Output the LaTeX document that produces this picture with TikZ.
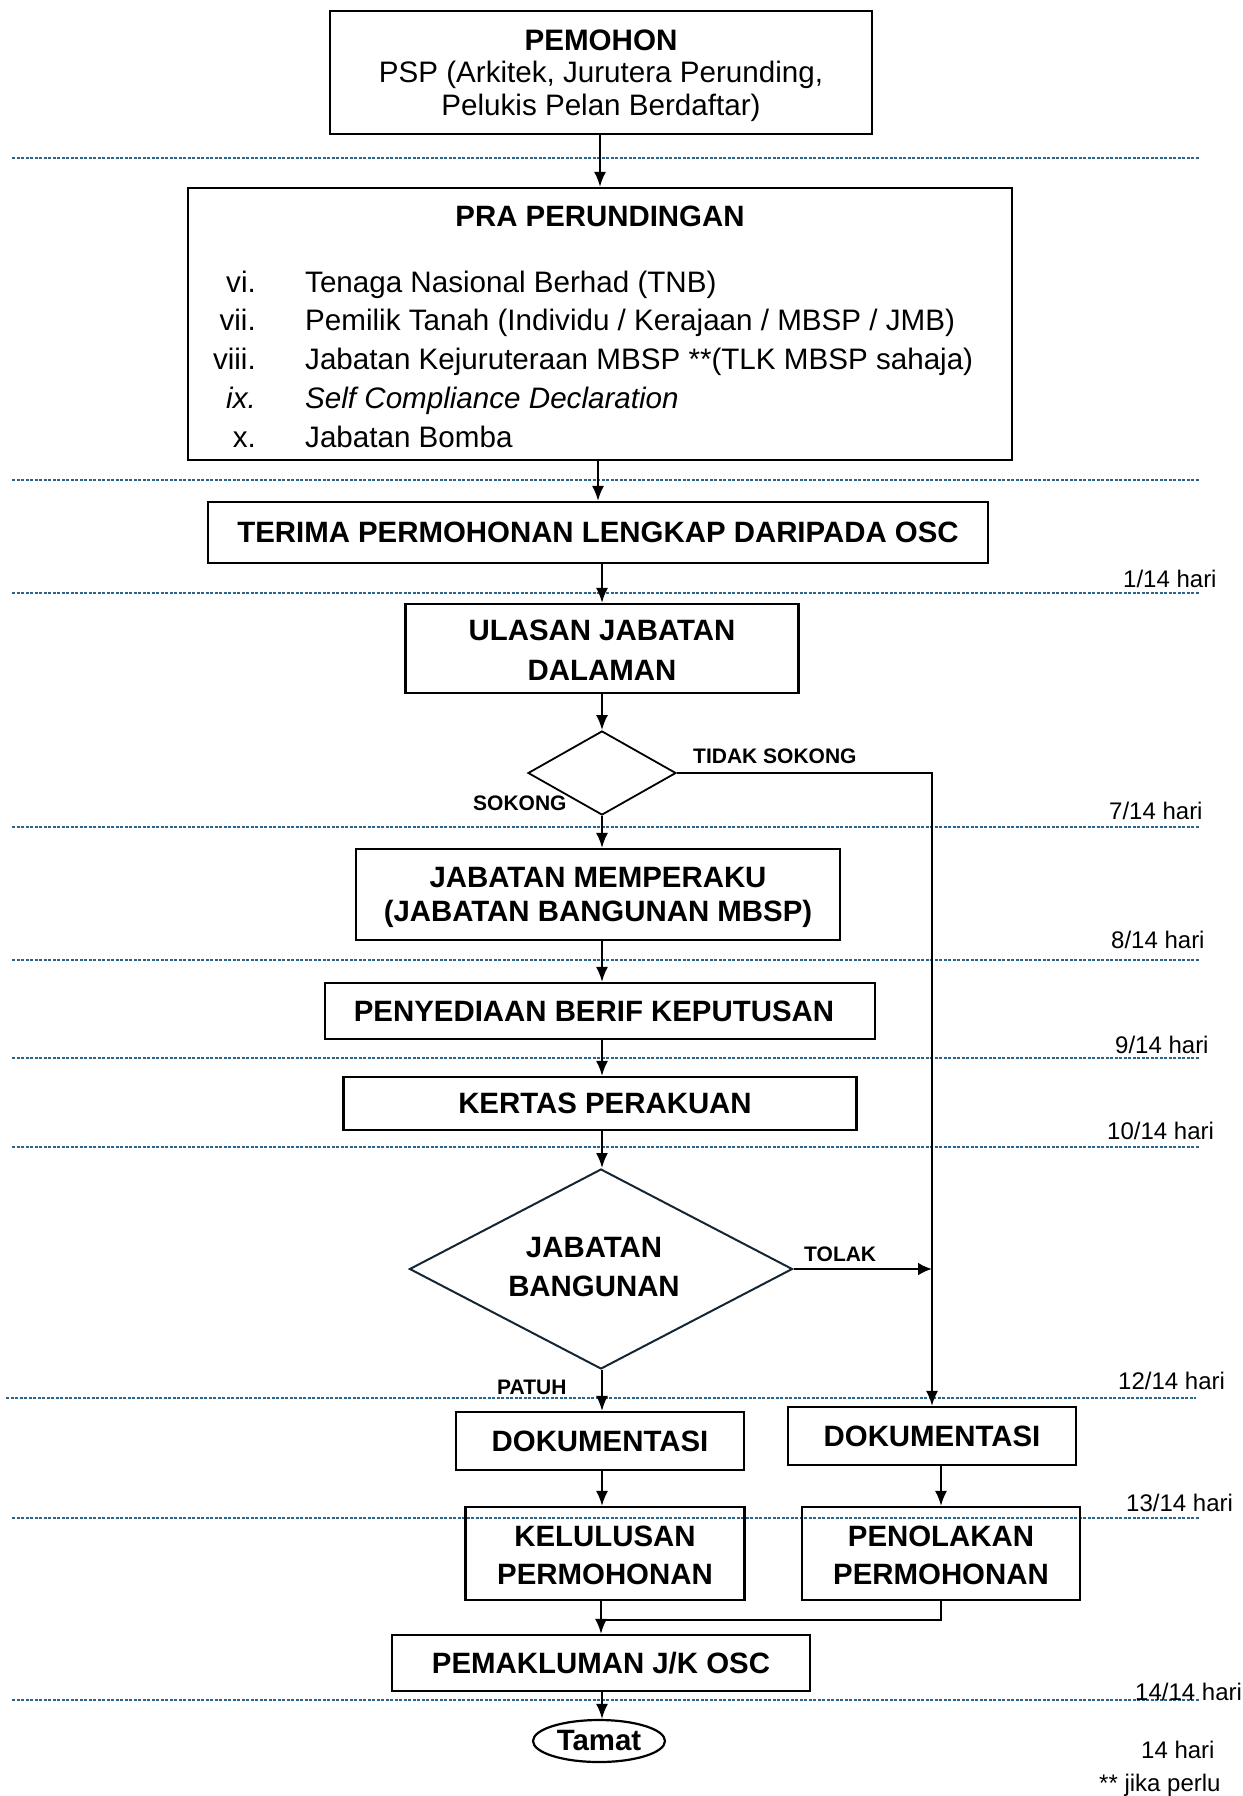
\documentclass[tikz,border=0pt]{standalone}
\usepackage{fontspec}
\setmainfont{Liberation Sans}
\usetikzlibrary{arrows.meta,shapes.geometric}
\definecolor{sepblue}{RGB}{40,100,140}
\definecolor{dmd}{RGB}{20,38,52}
\begin{document}
\begin{tikzpicture}[x=1pt,y=-1pt,
  box/.style={draw, line width=2.2pt, inner sep=0pt, align=center, font=\bfseries\fontsize{29.4}{35}\selectfont},
  arr/.style={line width=2pt, -{Latex[length=15pt,width=12pt]}},
  plain/.style={line width=2pt},
  sepline/.style={draw=sepblue, line width=1.6pt, dash pattern=on 3pt off 1.5pt},
  hari/.style={anchor=west, inner sep=0pt, font=\fontsize{24}{28}\selectfont},
  lbl/.style={anchor=west, inner sep=0pt, font=\bfseries\fontsize{21}{25}\selectfont},
  item/.style={inner sep=0pt, font=\fontsize{29.6}{34}\selectfont}
]
\useasboundingbox (0,0) rectangle (1242,1796);

% separator lines
\foreach \yy in {158,480,593,827,960,1058,1147,1518,1700}
  \draw[sepline] (12,\yy) -- (1200,\yy);
\draw[sepline] (6,1398) -- (1196,1398);

% boxes
\node[box, minimum width=542pt, minimum height=123pt, font=\fontsize{29.6}{32.5}\selectfont] (pemohon) at (601,72.5)
  {\rule{0pt}{27pt}\textbf{PEMOHON}\\PSP (Arkitek, Jurutera Perunding,\\Pelukis Pelan Berdaftar)};
\node[box, minimum width=824pt, minimum height=272pt] (pra) at (600,324) {};
\node[item, font=\bfseries\fontsize{29.4}{34}\selectfont, anchor=base] (pratitle) at (600,226) {PRA PERUNDINGAN};
\node[item, anchor=base east] (n6) at (256,292) {vi.};
\node[item, anchor=base west] (t6) at (305,292) {Tenaga Nasional Berhad (TNB)};
\node[item, anchor=base east] (n7) at (256,330) {vii.};
\node[item, anchor=base west] (t7) at (305,330) {Pemilik Tanah (Individu / Kerajaan / MBSP / JMB)};
\node[item, anchor=base east] (n8) at (256,369) {viii.};
\node[item, anchor=base west] (t8) at (305,369) {Jabatan Kejuruteraan MBSP **(TLK MBSP sahaja)};
\node[item, anchor=base east] (n9) at (256,408) {\itshape ix.};
\node[item, anchor=base west] (t9) at (305,408) {\itshape Self Compliance Declaration};
\node[item, anchor=base east] (n10) at (256,447) {x.};
\node[item, anchor=base west] (t10) at (305,447) {Jabatan Bomba};

\node[box, minimum width=780pt, minimum height=61pt] (terima) at (598,532.5) {TERIMA PERMOHONAN LENGKAP DARIPADA OSC};
\node[box, minimum width=393pt, minimum height=89pt, font=\bfseries\fontsize{29.4}{39.5}\selectfont] (ulasan) at (602,648.5) {\rule{0pt}{24pt}ULASAN JABATAN\\DALAMAN};
\node[draw, diamond, line width=1.8pt, inner sep=0pt, minimum width=148pt, minimum height=84pt] (d1) at (602,773) {};
\node[box, minimum width=484pt, minimum height=91pt, font=\bfseries\fontsize{29.4}{34}\selectfont] (memperaku) at (598,894.5) {\rule{0pt}{27pt}JABATAN MEMPERAKU\\(JABATAN BANGUNAN MBSP)};
\node[box, minimum width=550pt, minimum height=56pt] (penyediaan) at (600,1011) {PENYEDIAAN BERIF KEPUTUSAN\hspace*{12pt}};
\node[box, minimum width=513pt, minimum height=53pt] (kertas) at (600,1103.5) {\hspace*{10pt}KERTAS PERAKUAN};
\node[draw=dmd, diamond, line width=2pt, inner sep=0pt, minimum width=383pt, minimum height=200pt] (d2) at (601,1269) {};
\node[inner sep=0pt, align=center, font=\bfseries\fontsize{29.4}{39}\selectfont] (d2text) at (594,1267.5) {JABATAN\\BANGUNAN};
\node[box, minimum width=288pt, minimum height=58pt] (dokL) at (600,1441) {DOKUMENTASI};
\node[box, minimum width=288pt, minimum height=58pt] (dokR) at (932,1436) {DOKUMENTASI};
\node[box, minimum width=279pt, minimum height=93pt, font=\bfseries\fontsize{29.4}{38}\selectfont] (kelulusan) at (605,1553.5) {\rule{0pt}{24pt}KELULUSAN\\PERMOHONAN};
\node[box, minimum width=278pt, minimum height=93pt, font=\bfseries\fontsize{29.4}{38}\selectfont] (penolakan) at (941,1553.5) {\rule{0pt}{24pt}PENOLAKAN\\PERMOHONAN};
\node[box, minimum width=418pt, minimum height=56pt] (pemakluman) at (601,1663) {PEMAKLUMAN J/K OSC};
\node[draw, ellipse, line width=2.2pt, inner sep=0pt, minimum width=132pt, minimum height=42pt, font=\bfseries\fontsize{29.4}{34}\selectfont] (tamat) at (599,1741) {Tamat};

% labels
\node[lbl] (ltidak) at (693,756) {TIDAK SOKONG};
\node[lbl] (lsokong) at (473,803.5) {SOKONG};
\node[lbl] (ltolak) at (804,1254) {TOLAK};
\node[lbl] (lpatuh) at (497,1387.5) {PATUH};

\node[hari] (h1) at (1123,579) {1/14 hari};
\node[hari] (h7) at (1109,811) {7/14 hari};
\node[hari] (h8) at (1111,940) {8/14 hari};
\node[hari] (h9) at (1115,1045) {9/14 hari};
\node[hari] (h10) at (1107,1131) {10/14 hari};
\node[hari] (h12) at (1118,1381) {12/14 hari};
\node[hari] (h13) at (1126,1503) {13/14 hari};
\node[hari] (h14) at (1135,1692) {14/14 hari};
\node[hari] (htot) at (1141,1750) {14 hari};
\node[hari] (note) at (1099,1785) {** jika perlu};

% connectors
\draw[arr] (pemohon.south -| pra.north) -- (pra.north);
\draw[arr] (pra.south -| terima.north) -- (terima.north);
\draw[arr] (terima.south -| ulasan.north) -- (ulasan.north);
\draw[arr] (ulasan.south) -- (d1.north);
\draw[arr] (d1.south) -- (d1.south |- memperaku.north);
\draw[arr] (memperaku.south -| d1.south) -- (d1.south |- penyediaan.north);
\draw[arr] (penyediaan.south -| d1.south) -- (d1.south |- kertas.north);
\draw[arr] (kertas.south -| d1.south) -- (d1.south |- d2.north);
\draw[arr] (d2.south -| d1.south) -- (d1.south |- dokL.north);
\draw[arr] (dokL.south -| d1.south) -- (d1.south |- kelulusan.north);
\coordinate (turn) at (d1.east -| dokR.north);
\draw[arr] (d1.east) -- (turn) -- (dokR.north);
\draw[line width=2.6pt, -{Latex[length=14pt,width=13pt]}] (d2.east) -- (d2.east -| dokR.north);
\draw[arr] (dokR.south -| penolakan.north) -- (penolakan.north);
\coordinate (mj) at (601,1620);
\draw[plain] (penolakan.south) |- (mj);
\draw[arr] (kelulusan.south -| pemakluman.north) -- (pemakluman.north);
\draw[arr] (pemakluman.south -| d1.south) -- (d1.south |- tamat.north);
\end{tikzpicture}
\end{document}
